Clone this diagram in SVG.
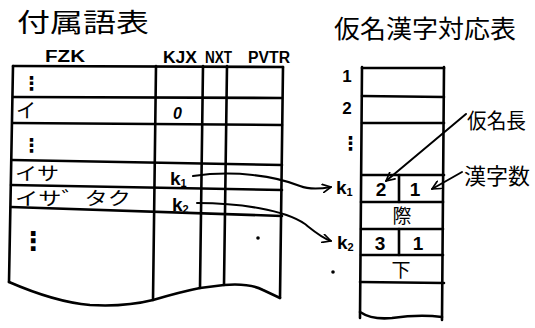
<svg xmlns="http://www.w3.org/2000/svg" width="535" height="328" viewBox="0 0 535 328">
<style>
.ln{fill:none;stroke:#000;stroke-width:2.6;stroke-linecap:round;stroke-linejoin:round}
.th{fill:none;stroke:#000;stroke-width:2;stroke-linecap:round}
.t{font-family:"Noto Sans CJK JP","DejaVu Sans",sans-serif;fill:#000}
.h{font-family:"Liberation Sans","DejaVu Sans",sans-serif;fill:#000;font-weight:bold}
.m{font-family:"DejaVu Sans",sans-serif;fill:#000;font-weight:bold}
</style>
<defs>
<marker id="ah" viewBox="0 0 12 12" refX="11" refY="6" markerWidth="10" markerHeight="10" markerUnits="userSpaceOnUse" orient="auto">
<path d="M1,1 L11,6 L1,11" fill="none" stroke="#000" stroke-width="2" stroke-linecap="round" stroke-linejoin="round"/>
</marker>
</defs>
<rect width="535" height="328" fill="#fff"/>

<g id="fuzokugo-table">
<text class="t" x="17" y="32" font-size="26" textLength="132" lengthAdjust="spacingAndGlyphs">付属語表</text>
<text class="h" x="45" y="62" font-size="16" textLength="40" lengthAdjust="spacingAndGlyphs">FZK</text>
<text class="h" x="163" y="63" font-size="16" textLength="34" lengthAdjust="spacingAndGlyphs">KJX</text>
<text class="h" x="205" y="63" font-size="16" textLength="27" lengthAdjust="spacingAndGlyphs">NXT</text>
<text class="h" x="248" y="63" font-size="16" textLength="42" lengthAdjust="spacingAndGlyphs">PVTR</text>
<path class="ln" d="M13,66 L283,67"/>
<path class="ln" d="M13,97 L282,98"/>
<path class="ln" d="M13,123 L282,125"/>
<path class="ln" d="M12,160 L282,165"/>
<path class="ln" d="M11,185 L282,190"/>
<path class="ln" d="M11,207 L282,216"/>
<path class="ln" d="M13,66 L9,282"/>
<path class="ln" d="M156,66 L153,300"/>
<path class="ln" d="M203,66 L200,288"/>
<path class="ln" d="M227,66 L224,285"/>
<path class="ln" d="M283,67 L280,298"/>
<path class="ln" d="M9,282 Q55,302 90,305 Q125,307 153,300 Q180,292 200,288 L224,285 Q250,283 263,290 L280,298"/>
<text class="m" x="22" y="90" font-size="19">⋮</text>
<text class="t" x="16" y="118" font-size="20">イ</text>
<text class="h" x="173" y="119" font-size="16" font-style="italic">0</text>
<text class="m" x="22" y="152" font-size="19">⋮</text>
<text class="t" x="15" y="180" font-size="18" textLength="44" lengthAdjust="spacingAndGlyphs">イサ</text>
<text class="h" x="170" y="185" font-size="19" font-weight="normal">k<tspan font-size="11" dy="2">1</tspan></text>
<text class="t" x="15" y="205" font-size="18" textLength="116" lengthAdjust="spacingAndGlyphs">イサ゛タク</text>
<text class="h" x="172" y="211" font-size="19" font-weight="normal">k<tspan font-size="11" dy="2">2</tspan></text>
<text class="m" x="20" y="250" font-size="26">⋮</text>
<circle cx="258" cy="238" r="1.8" fill="#000"/>
</g>

<g id="kana-kanji-table">
<text class="t" x="334" y="38" font-size="25" textLength="182" lengthAdjust="spacingAndGlyphs">仮名漢字対応表</text>
<path class="ln" d="M362,68 L444,68"/>
<path class="ln" d="M362,96 L444,97"/>
<path class="ln" d="M362,123 L444,123"/>
<path class="ln" d="M362,175 L444,175"/>
<path class="ln" d="M361,202 L443,202"/>
<path class="ln" d="M361,229 L443,229"/>
<path class="ln" d="M361,255 L443,255"/>
<path class="ln" d="M360,282 L444,283"/>
<path class="ln" d="M362,67 L360,318"/>
<path class="ln" d="M444,67 L442,320"/>
<path class="ln" d="M399,175 L399,202"/>
<path class="ln" d="M399,229 L399,255"/>
<path class="ln" d="M360,312 Q372,320 392,318 Q420,314 442,317"/>
<text class="h" x="347" y="82" font-size="17" text-anchor="middle">1</text>
<text class="h" x="347" y="114" font-size="17" text-anchor="middle">2</text>
<text class="m" x="341" y="150" font-size="19">⋮</text>
<text class="h" x="336" y="194" font-size="19" font-weight="normal">k<tspan font-size="11" dy="2">1</tspan></text>
<text class="h" x="337" y="249" font-size="19" font-weight="normal">k<tspan font-size="11" dy="2">2</tspan></text>
<text class="h" x="381" y="196" font-size="19" font-weight="normal" text-anchor="middle">2</text>
<text class="h" x="415" y="196" font-size="19" font-weight="normal" text-anchor="middle">1</text>
<text class="t" x="402" y="223" font-size="19" text-anchor="middle">際</text>
<text class="h" x="380" y="250" font-size="19" font-weight="normal" text-anchor="middle">3</text>
<text class="h" x="418" y="250" font-size="19" font-weight="normal" text-anchor="middle">1</text>
<text class="t" x="401" y="277" font-size="19" text-anchor="middle">下</text>
<circle cx="333" cy="272" r="1.8" fill="#000"/>
</g>

<g id="label-kana-length">
<text class="t" x="467" y="128" font-size="21" textLength="59" lengthAdjust="spacingAndGlyphs">仮名長</text>
</g>
<g id="label-kanji-count">
<text class="t" x="464" y="184" font-size="22" textLength="66" lengthAdjust="spacingAndGlyphs">漢字数</text>
</g>

<g id="connectors">
<path class="th" marker-end="url(#ah)" d="M193,176 C235,170 275,176 300,186 C310,190 320,189 331,187"/>
<path class="th" marker-end="url(#ah)" d="M197,203 C240,203 285,210 305,224 C315,232 322,238 331,241"/>
<path class="th" marker-end="url(#ah)" d="M466,114 L386,181"/>
<path class="th" marker-end="url(#ah)" d="M462,172 L432,189"/>
</g>
</svg>
